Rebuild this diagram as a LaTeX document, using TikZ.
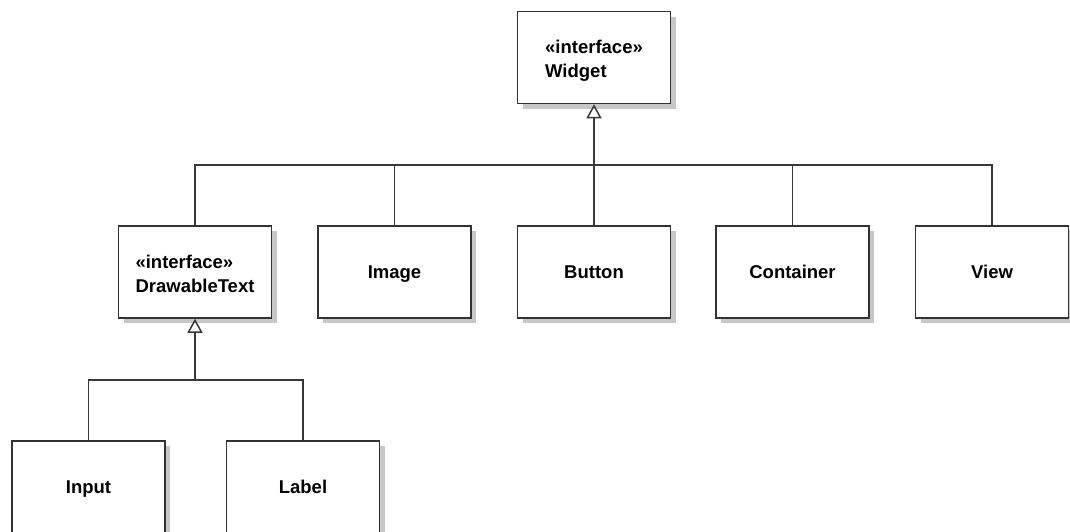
\documentclass[tikz,border=0pt]{standalone}
\usepackage{fontspec}
\setmainfont{Liberation Sans}
\usetikzlibrary{arrows.meta,shadows}
\begin{document}
\begin{tikzpicture}[x=1pt,y=-1pt,
  umlclass/.style={draw=black!80, line width=1.5pt, fill=white,
    minimum width=153pt, minimum height=92pt, inner sep=0pt,
    align=left, font=\bfseries\fontsize{18.5}{24}\selectfont,
    text height=40.5pt, text depth=0pt,
    drop shadow={shadow xshift=5pt, shadow yshift=-5pt, fill=black!22, opacity=1}},
  plainclass/.style={umlclass, align=center, text height=13.5pt, text depth=0.5pt},
  wire/.style={draw=black!78, line width=1.5pt},
  realizes/.style={wire, -{Triangle[open, length=14pt, width=15pt, line width=1.5pt]}}
]
\useasboundingbox (0,0) rectangle (1070,531);

% top-level interface
\node[umlclass] (widget) at (594,57.5) {«interface»\\Widget};

% implementations of Widget
\node[umlclass] (drawable) at (195,272) {«interface»\\DrawableText};
\node[plainclass] (image) at (394.5,272) {Image};
\node[plainclass] (button) at (594,272) {Button};
\node[plainclass] (container) at (792.5,272) {Container};
\node[plainclass] (view) at (992,272) {View};

% implementations of DrawableText
\node[plainclass] (input) at (88.5,487) {Input};
\node[plainclass] (label) at (303,487) {Label};

% shared branch points of the generalization trees
\coordinate (busA) at (594,165);
\coordinate (busB) at (195,380);

\draw[realizes] (busA) -- (widget.south);
\foreach \n in {drawable,image,button,container,view}
  \draw[wire] (\n.north) |- (busA);

\draw[realizes] (busB) -- (drawable.south);
\foreach \n in {input,label}
  \draw[wire] (\n.north) |- (busB);
\end{tikzpicture}
\end{document}
